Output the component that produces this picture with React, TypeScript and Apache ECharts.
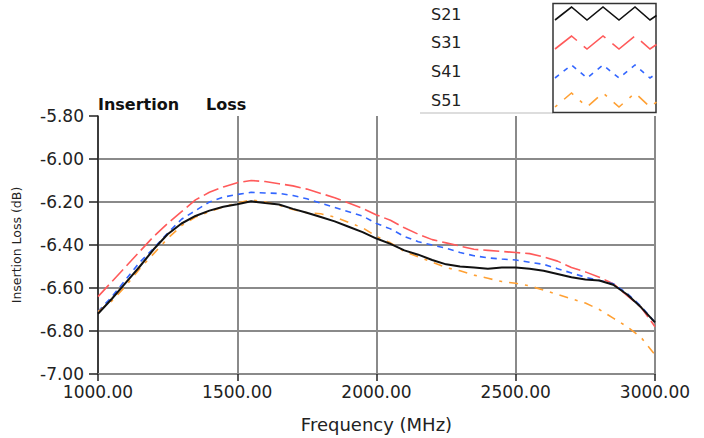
import React, { useEffect, useRef } from "react";
import * as echarts from "echarts";

const freqs = [1000, 1050, 1100, 1150, 1200, 1250, 1300, 1350, 1400, 1450, 1500, 1550, 1600, 1650, 1700, 1750, 1800, 1850, 1900, 1950, 2000, 2050, 2100, 2150, 2200, 2250, 2300, 2350, 2400, 2450, 2500, 2550, 2600, 2650, 2700, 2750, 2800, 2850, 2900, 2950, 3000];

const s21 = [-6.72, -6.65, -6.575, -6.5, -6.42, -6.35, -6.3, -6.265, -6.24, -6.222, -6.21, -6.197, -6.205, -6.212, -6.232, -6.25, -6.27, -6.29, -6.315, -6.34, -6.37, -6.395, -6.425, -6.445, -6.47, -6.49, -6.5, -6.505, -6.51, -6.505, -6.505, -6.51, -6.52, -6.535, -6.55, -6.56, -6.565, -6.585, -6.63, -6.69, -6.76];
const s31 = [-6.64, -6.57, -6.5, -6.43, -6.36, -6.3, -6.245, -6.19, -6.155, -6.13, -6.11, -6.1, -6.105, -6.115, -6.125, -6.14, -6.16, -6.18, -6.205, -6.23, -6.26, -6.285, -6.32, -6.35, -6.375, -6.39, -6.405, -6.42, -6.425, -6.43, -6.435, -6.44, -6.455, -6.475, -6.505, -6.525, -6.55, -6.58, -6.635, -6.69, -6.78];
const s41 = [-6.71, -6.64, -6.56, -6.48, -6.415, -6.345, -6.28, -6.24, -6.2, -6.177, -6.165, -6.155, -6.158, -6.16, -6.17, -6.185, -6.205, -6.225, -6.245, -6.265, -6.3, -6.325, -6.36, -6.385, -6.4, -6.415, -6.435, -6.45, -6.46, -6.465, -6.47, -6.48, -6.49, -6.51, -6.53, -6.55, -6.565, -6.58, -6.625, -6.685, -6.76];
const s51 = [-6.71, -6.66, -6.59, -6.51, -6.44, -6.37, -6.31, -6.27, -6.245, -6.222, -6.205, -6.19, -6.2, -6.215, -6.235, -6.25, -6.255, -6.27, -6.295, -6.32, -6.36, -6.39, -6.43, -6.455, -6.48, -6.505, -6.52, -6.54, -6.555, -6.57, -6.578, -6.59, -6.61, -6.63, -6.65, -6.67, -6.7, -6.74, -6.78, -6.83, -6.91];

const seriesNames = ["S21", "S31", "S41", "S51"];
const seriesValues = [s21, s31, s41, s51];
const colors = ["#111111", "#ff5a5a", "#3366ff", "#ffa033"];
const dashes: any[] = ["solid", [16, 5], [6, 5], [9, 7, 3, 7]];
const widths = [2, 1.6, 1.6, 1.6];
const legendDashes: any[] = [null, [28, 9], [5, 6], [3, 9, 12, 9]];

const FONT = "DejaVu Sans";

export default function App() {
  const ref = useRef<HTMLDivElement>(null);
  useEffect(() => {
    const chart = echarts.init(ref.current!, null, { renderer: "svg" });
    const series = seriesNames.map((name, i) => ({
      name,
      type: "line",
      data: freqs.map((f, j) => [f, seriesValues[i][j]]),
      showSymbol: false,
      symbol: "none",
      z: i === 0 ? 5 : 3,
      lineStyle: { color: colors[i], width: widths[i], type: dashes[i] },
    }));
    const zx = [555, 571.5, 587, 603, 619, 635, 650, 656.5];
    const rows = [
      [7, 20],
      [36, 49],
      [65, 78],
      [93, 107],
    ];
    const legendEls: any[] = [];
    rows.forEach((r, i) => {
      legendEls.push({
        type: "polyline",
        shape: { points: zx.map((x, k) => [x, k === 7 ? (r[0] + r[1]) / 2 + 2 : k % 2 === 0 ? r[1] : r[0]]) },
        style: { stroke: colors[i], lineWidth: 1.6, fill: null, lineDash: legendDashes[i] },
        silent: true,
      });
      legendEls.push({
        type: "text",
        x: 431,
        y: [14, 42.5, 71, 100][i],
        style: { text: seriesNames[i], font: `16px '${FONT}'`, fill: "#222", verticalAlign: "middle" },
      });
    });
    chart.setOption({
      animation: false,
      backgroundColor: "#ffffff",
      grid: { left: 98, right: 49, top: 116, bottom: 55, containLabel: false },
      xAxis: {
        type: "value",
        min: 1000,
        max: 3000,
        interval: 500,
        name: "Frequency (MHz)",
        nameLocation: "middle",
        nameGap: 41,
        nameTextStyle: { fontFamily: FONT, fontSize: 18, color: "#222" },
        axisLine: { show: true, lineStyle: { color: "#8a8a8a", width: 2 } },
        axisTick: { show: true, length: 7, lineStyle: { color: "#222", width: 1.5 } },
        axisLabel: {
          formatter: (v: number) => v.toFixed(2),
          fontFamily: FONT,
          fontSize: 17,
          color: "#222",
          margin: 9,
        },
        splitLine: { show: true, lineStyle: { color: "#8a8a8a", width: 2 } },
      },
      yAxis: {
        type: "value",
        min: -7,
        max: -5.8,
        interval: 0.2,
        name: "Insertion Loss (dB)",
        nameLocation: "middle",
        nameGap: 75,
        nameRotate: 90,
        nameTextStyle: { fontFamily: FONT, fontSize: 12.5, color: "#222" },
        axisLine: { show: true, lineStyle: { color: "#222", width: 1.5 } },
        axisTick: { show: true, length: 9, lineStyle: { color: "#222", width: 1.5 } },
        axisLabel: {
          formatter: (v: number) => v.toFixed(2),
          fontFamily: FONT,
          fontSize: 17,
          color: "#222",
          margin: 14,
        },
        splitLine: {
          show: true,
          lineStyle: {
            color: ["#8a8a8a", "#8a8a8a", "#8a8a8a", "#8a8a8a", "#8a8a8a", "#8a8a8a", "rgba(0,0,0,0)"],
            width: 2,
          },
        },
      },
      graphic: [
        {
          type: "text",
          x: 98,
          y: 104,
          style: { text: "Insertion", font: `bold 16px '${FONT}'`, fill: "#111", verticalAlign: "middle" },
        },
        {
          type: "text",
          x: 206,
          y: 104,
          style: { text: "Loss", font: `bold 16px '${FONT}'`, fill: "#111", verticalAlign: "middle" },
        },
        {
          type: "line",
          shape: { x1: 420, y1: 113, x2: 553, y2: 113 },
          style: { stroke: "#bbbbbb", lineWidth: 1 },
        },
        {
          type: "rect",
          shape: { x: 553, y: 3.5, width: 103, height: 109 },
          style: { stroke: "#333", lineWidth: 1.5, fill: "#ffffff" },
        },
        ...legendEls,
      ],
      series,
    });
    return () => chart.dispose();
  }, []);
  return <div ref={ref} style={{ position: "absolute", left: 0, top: 0, width: 704, height: 438 }} />;
}
